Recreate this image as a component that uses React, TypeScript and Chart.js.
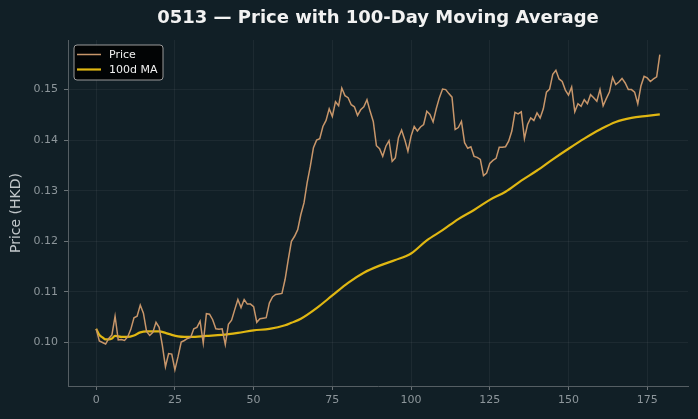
import React, { useEffect, useRef } from "react";
import { Chart, registerables } from "chart.js";

Chart.register(...registerables);

const TITLE = "0513 — Price with 100-Day Moving Average";
const Y_LABEL = "Price (HKD)";

const price: number[] = [
  0.1027, 0.1003, 0.1000, 0.0997, 0.1008, 0.1015, 0.1052, 0.1005, 0.1006, 0.1004,
  0.1011, 0.1026, 0.1049, 0.1052, 0.1074, 0.1058, 0.1022, 0.1014, 0.1020, 0.1040,
  0.1030, 0.0995, 0.0952, 0.0978, 0.0977, 0.0946, 0.0972, 0.1001, 0.1004, 0.1008,
  0.1010, 0.1027, 0.1030, 0.1042, 0.0999, 0.1057, 0.1056, 0.1045, 0.1027, 0.1026,
  0.1027, 0.0996, 0.1036, 0.1044, 0.1065, 0.1085, 0.1069, 0.1085, 0.1076, 0.1076,
  0.1071, 0.1040, 0.1047, 0.1048, 0.1049, 0.1078, 0.1090, 0.1095, 0.1096, 0.1097,
  0.1125, 0.1164, 0.1200, 0.1210, 0.1223, 0.1253, 0.1276, 0.1316, 0.1348, 0.1385,
  0.1400, 0.1403, 0.1427, 0.1439, 0.1462, 0.1447, 0.1476, 0.1468, 0.1503, 0.1488,
  0.1484, 0.1470, 0.1466, 0.1449, 0.1460, 0.1466, 0.1480, 0.1457, 0.1437, 0.1389,
  0.1383, 0.1368, 0.1388, 0.1399, 0.1358, 0.1365, 0.1405, 0.1420, 0.1401, 0.1378,
  0.1408, 0.1427, 0.1418, 0.1426, 0.1431, 0.1457, 0.1451, 0.1436, 0.1462, 0.1484,
  0.1501, 0.1500, 0.1492, 0.1485, 0.1421, 0.1425, 0.1437, 0.1395, 0.1384, 0.1387,
  0.1368, 0.1366, 0.1362, 0.1330, 0.1335, 0.1354, 0.1360, 0.1364, 0.1386, 0.1386,
  0.1387, 0.1398, 0.1418, 0.1455, 0.1452, 0.1456, 0.1403, 0.1431, 0.1444, 0.1439,
  0.1454, 0.1444, 0.1462, 0.1495, 0.1501, 0.1530, 0.1538, 0.1521, 0.1516, 0.1499,
  0.1489, 0.1505, 0.1456, 0.1472, 0.1467, 0.1480, 0.1472, 0.1490, 0.1484, 0.1477,
  0.1500, 0.1468, 0.1482, 0.1495, 0.1524, 0.1510, 0.1515, 0.1522, 0.1513, 0.1500,
  0.1500, 0.1495, 0.1472, 0.1507, 0.1526, 0.1523, 0.1516, 0.1521, 0.1525, 0.1569,
];

const maDays: number[] = [
  0, 1, 2, 3, 4, 5, 6, 8, 10, 12, 14, 16, 18, 20, 22, 24, 26, 28, 30, 35,
  40, 45, 50, 55, 60, 62, 65, 70, 75, 80, 85, 90, 95, 100, 105, 110, 115, 120, 125, 130,
  135, 140, 145, 150, 155, 160, 165, 170, 175, 179,
];
const maValues: number[] = [
  0.1027, 0.1015, 0.1010, 0.1006, 0.1006, 0.1008, 0.1013, 0.1011, 0.1011, 0.1014,
  0.1020, 0.1022, 0.1022, 0.1022, 0.1019, 0.1015, 0.1012, 0.1011, 0.1011, 0.1013,
  0.1015, 0.1019, 0.1024, 0.1027, 0.1034, 0.1039, 0.1047, 0.1068, 0.1093, 0.1118,
  0.1138, 0.1152, 0.1163, 0.1176, 0.1202, 0.1222, 0.1244, 0.1262, 0.1282, 0.1298,
  0.1320, 0.1340, 0.1362, 0.1383, 0.1403, 0.1421, 0.1436, 0.1444, 0.1448, 0.1451,
];

const xTicks: number[] = [0, 25, 50, 75, 100, 125, 150, 175];
const yTicks: number[] = [0.1, 0.11, 0.12, 0.13, 0.14, 0.15];

const BG = "#111f26";
const FONT = "'DejaVu Sans', sans-serif";

const titlePlugin = {
  id: "centeredTitle",
  afterDraw(chart: any) {
    const { ctx, chartArea } = chart;
    ctx.save();
    ctx.fillStyle = "#f2f2f2";
    ctx.font = `bold 18px ${FONT}`;
    ctx.textAlign = "center";
    ctx.textBaseline = "middle";
    ctx.fillText(TITLE, (chartArea.left + chartArea.right) / 2, 18.5);
    ctx.restore();
  },
};

const legendPlugin = {
  id: "boxLegend",
  afterDraw(chart: any) {
    const { ctx, chartArea } = chart;
    const x0 = chartArea.left + 6;
    const y0 = chartArea.top + 5;
    const w = 89;
    const h = 35;
    ctx.save();
    ctx.beginPath();
    const r = 3;
    ctx.moveTo(x0 + r, y0);
    ctx.lineTo(x0 + w - r, y0);
    ctx.quadraticCurveTo(x0 + w, y0, x0 + w, y0 + r);
    ctx.lineTo(x0 + w, y0 + h - r);
    ctx.quadraticCurveTo(x0 + w, y0 + h, x0 + w - r, y0 + h);
    ctx.lineTo(x0 + r, y0 + h);
    ctx.quadraticCurveTo(x0, y0 + h, x0, y0 + h - r);
    ctx.lineTo(x0, y0 + r);
    ctx.quadraticCurveTo(x0, y0, x0 + r, y0);
    ctx.closePath();
    ctx.fillStyle = "rgba(0,0,0,0.85)";
    ctx.fill();
    ctx.lineWidth = 1;
    ctx.strokeStyle = "#9a9a9a";
    ctx.stroke();
    chart.data.datasets.forEach((ds: any, i: number) => {
      const yy = y0 + 9.5 + i * 15;
      ctx.beginPath();
      ctx.strokeStyle = ds.borderColor;
      ctx.lineWidth = ds.borderWidth;
      ctx.moveTo(x0 + 3, yy);
      ctx.lineTo(x0 + 27, yy);
      ctx.stroke();
      ctx.fillStyle = "#f0f0f0";
      ctx.font = `11px ${FONT}`;
      ctx.textBaseline = "middle";
      ctx.textAlign = "left";
      ctx.fillText(ds.label, x0 + 35, yy + 0.5);
    });
    ctx.restore();
  },
};

export default function App() {
  const ref = useRef<HTMLCanvasElement | null>(null);
  useEffect(() => {
    document.body.style.margin = "0";
    document.body.style.background = BG;
    const canvas = ref.current!;
    const chart = new Chart(canvas, {
      type: "line",
      data: {
        datasets: [
          {
            label: "Price",
            data: price.map((v, i) => ({ x: i, y: v })),
            borderColor: "#c8966a",
            borderWidth: 1.5,
            pointRadius: 0,
            tension: 0,
            fill: false,
          },
          {
            label: "100d MA",
            data: maDays.map((d, i) => ({ x: d, y: maValues[i] })),
            borderColor: "#e0b712",
            borderWidth: 2.2,
            pointRadius: 0,
            cubicInterpolationMode: "monotone",
            fill: false,
          },
        ],
      },
      options: {
        responsive: false,
        animation: false,
        layout: { padding: { left: 8, right: 10, top: 40, bottom: 0 } },
        plugins: {
          legend: { display: false },
          tooltip: { enabled: false },
          title: { display: false },
        },
        scales: {
          x: {
            type: "linear",
            min: -8.95,
            max: 187.95,
            afterBuildTicks: (s: any) => {
              s.ticks = xTicks.map((v) => ({ value: v }));
            },
            afterFit: (s: any) => {
              s.height = 33;
            },
            grid: {
              color: "rgba(255,255,255,0.05)",
              tickColor: "#6a7276",
              tickLength: 4,
            },
            border: { color: "#555e63", width: 1 },
            ticks: {
              color: "#8d969b",
              font: { family: FONT, size: 11 },
              padding: 4,
              maxRotation: 0,
            },
          },
          y: {
            type: "linear",
            min: 0.0914,
            max: 0.1598,
            afterBuildTicks: (s: any) => {
              s.ticks = yTicks.map((v) => ({ value: v }));
            },
            afterFit: (s: any) => {
              s.width = 60;
            },
            grid: {
              color: "rgba(255,255,255,0.05)",
              tickColor: "#6a7276",
              tickLength: 4,
            },
            border: { color: "#555e63", width: 1 },
            ticks: {
              color: "#8d969b",
              font: { family: FONT, size: 11 },
              padding: 6,
              callback: (v: any) => Number(v).toFixed(2),
            },
            title: {
              display: true,
              text: Y_LABEL,
              color: "#c2c7ca",
              font: { family: FONT, size: 14 },
              padding: { top: 0, bottom: 0 },
            },
          },
        },
      },
      plugins: [legendPlugin, titlePlugin],
    });
    return () => chart.destroy();
  }, []);
  return (
    <div style={{ position: "absolute", left: 0, top: 0, width: 698, height: 419, background: BG }}>
      <canvas ref={ref} width={698} height={419} style={{ display: "block" }} />
    </div>
  );
}
